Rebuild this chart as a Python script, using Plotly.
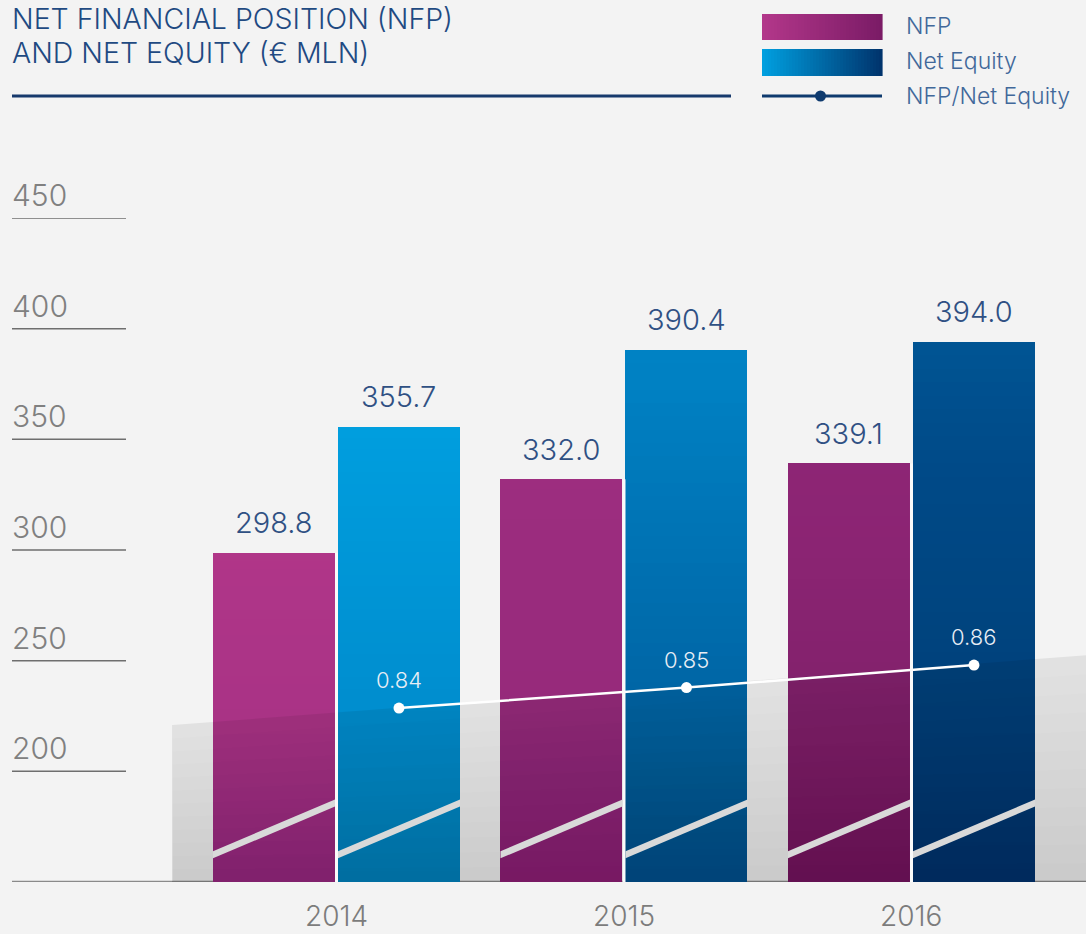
import plotly.graph_objects as go

# ---------------- data ----------------
years = ["2014", "2015", "2016"]
nfp = [298.8, 332.0, 339.1]
net_equity = [355.7, 390.4, 394.0]
ratio = [0.840, 0.850, 0.861]
ratio_labels = ["0.84", "0.85", "0.86"]
y_ticks = [200, 250, 300, 350, 400, 450]

# ---------------- style constants ----------------
W, H = 1086, 934
ML, MR, MT, MB = 12, 0, 218, 52
Y_MIN, Y_MAX = 150, 450
X_RANGE = [-1.1287, 2.607]
BAR_W = 0.4243
OFF_NFP = -0.4296
OFF_NE = 0.0052
BG = "#f3f3f3"
FONT = "Inter"
N_SLICES = 40

nfp_stops = [(0.0, "#bb3a8f"), (0.15, "#b3378a"), (0.47, "#9c2d7f"), (0.81, "#8b2473"), (1.0, "#771e63")]
ne_stops = [(0.0, "#00a6e6"), (0.10, "#00a0e0"), (0.41, "#0080c2"), (0.76, "#004a88"), (1.0, "#003a70")]


def hex2rgb(h):
    h = h.lstrip("#")
    return tuple(int(h[i:i + 2], 16) for i in (0, 2, 4))


def grad(stops, t):
    t = max(0.0, min(1.0, t))
    for (t0, c0), (t1, c1) in zip(stops[:-1], stops[1:]):
        if t <= t1:
            f = (t - t0) / (t1 - t0) if t1 > t0 else 0
            a, b = hex2rgb(c0), hex2rgb(c1)
            return "rgb(%d,%d,%d)" % tuple(round(a[k] + (b[k] - a[k]) * f) for k in range(3))
    r = hex2rgb(stops[-1][1])
    return "rgb(%d,%d,%d)" % r


def tpos(i, y):
    return 0.62 * (i / 2) + 0.38 * ((Y_MAX - y) / (Y_MAX - Y_MIN))


plot_w = W - ML - MR
plot_h = H - MT - MB


def px(x):
    return (x - ML) / plot_w


def py(y):
    return (H - MB - y) / plot_h


fig = go.Figure()
xs = list(range(len(years)))

# gradient bars built from stacked slices
for vals, off, stops in ((nfp, OFF_NFP, nfp_stops), (net_equity, OFF_NE, ne_stops)):
    for k in range(N_SLICES):
        bases, heights, cols = [], [], []
        for i, v in enumerate(vals):
            step = (v - Y_MIN) / N_SLICES
            b = Y_MIN + step * k
            bases.append(b)
            heights.append(step * 1.08 if k < N_SLICES - 1 else step)
            cols.append(grad(stops, tpos(i, b + step / 2)))
        fig.add_trace(go.Bar(
            x=xs, y=heights, base=bases, width=BAR_W, offset=off,
            marker=dict(color=cols, line=dict(width=0)),
            hoverinfo="skip", showlegend=False,
        ))

# translucent grey overlay (trapezoid) with vertical gradient
ov_x = [-0.572, 2.7]
ov_top = [220.9, 253.4]
n_bands = 12
for k in range(n_bands):
    f = k / n_bands
    tl = ov_top[0] - (ov_top[0] - Y_MIN) * f
    tr = ov_top[1] - (ov_top[1] - Y_MIN) * f
    a = 0.072 if k == 0 else 0.009
    fig.add_trace(go.Scatter(
        x=[ov_x[0], ov_x[1], ov_x[1], ov_x[0], ov_x[0]],
        y=[tl, tr, Y_MIN - 5, Y_MIN - 5, tl],
        fill="toself", fillcolor="rgba(0,0,0,%.3f)" % a,
        mode="lines", line=dict(width=0),
        hoverinfo="skip", showlegend=False,
    ))

# ratio line (secondary axis)
ratio_x = [i + OFF_NE + BAR_W / 2 for i in xs]
fig.add_trace(go.Scatter(
    x=ratio_x, y=ratio, yaxis="y2", mode="lines+markers",
    line=dict(color="white", width=2.5),
    marker=dict(color="white", size=11),
    hoverinfo="skip", showlegend=False,
))

shapes = []
annotations = []

# baseline
shapes.append(dict(type="line", xref="paper", yref="y", x0=0, x1=1, y0=Y_MIN, y1=Y_MIN,
                   line=dict(color="#8a8a8a", width=2.5), layer="below"))

# short gridlines + y tick labels
for t in y_ticks:
    shapes.append(dict(type="line", xref="paper", yref="y", x0=0, x1=px(126), y0=t, y1=t,
                       line=dict(color="#6e6e6e", width=1.5), layer="below"))
    annotations.append(dict(xref="paper", yref="y", x=0, y=t, xanchor="left", yanchor="middle",
                            yshift=23, xshift=-2, text=str(t), showarrow=False,
                            font=dict(family=FONT, size=30, color="#808080", weight=300)))

# white gaps within groups and diagonal stripes
for i in xs:
    shapes.append(dict(type="line", xref="x", yref="y", x0=i, x1=i, y0=Y_MIN, y1=nfp[i],
                       line=dict(color="#fafafa", width=3), layer="above"))
    for off in (OFF_NFP, OFF_NE):
        x0 = i + off
        x1 = x0 + BAR_W
        shapes.append(dict(type="path", xref="x", yref="y",
                           path="M %f,%f L %f,%f L %f,%f L %f,%f Z" % (x0, 160.7, x1, 184.1, x1, 187.3, x0, 163.9),
                           fillcolor="#d9d9d9", line=dict(width=0), layer="above"))

# value labels above bars
for vals, off in ((nfp, OFF_NFP), (net_equity, OFF_NE)):
    for i, v in enumerate(vals):
        annotations.append(dict(xref="x", yref="y", x=i + off + BAR_W / 2, y=v, yshift=30,
                                xanchor="center", yanchor="middle", text="%.1f" % v, showarrow=False,
                                font=dict(family=FONT, size=29, color="#2f5083", weight=300)))

# ratio labels
for xv, r, lab in zip(ratio_x, ratio, ratio_labels):
    annotations.append(dict(xref="x", yref="y2", x=xv, y=r, yshift=28, xanchor="center",
                            yanchor="middle", text=lab, showarrow=False,
                            font=dict(family=FONT, size=22, color="#e8eef5", weight=300)))

# year labels
for i, yr in enumerate(years):
    annotations.append(dict(xref="x", yref="paper", x=i, y=0, yshift=-34, xanchor="center",
                            yanchor="middle", text=yr, showarrow=False,
                            font=dict(family=FONT, size=28, color="#7c7c7c", weight=300)))

# title
for txt, yy in (("NET FINANCIAL POSITION (NFP)", 18), ("AND NET EQUITY (€ MLN)", 52)):
    annotations.append(dict(xref="paper", yref="paper", x=0, y=py(yy), xanchor="left",
                            yanchor="middle", text=txt, showarrow=False, xshift=-2,
                            font=dict(family=FONT, size=28.5, color="#1f4a82", weight=300)))
shapes.append(dict(type="line", xref="paper", yref="paper", x0=0, x1=px(731), y0=py(96), y1=py(96),
                   line=dict(color="#16396c", width=3)))

# legend
n_sw = 40
for (y0, y1), stops in (((14, 40), [(0, "#b3378a"), (1, "#7a1b66")]), ((49, 76), [(0, "#00a0e0"), (1, "#00336c")])):
    for k in range(n_sw):
        xa = 762 + 120 * k / n_sw
        xb = 762 + 120 * (k + 1) / n_sw + 0.6
        shapes.append(dict(type="rect", xref="paper", yref="paper", x0=px(xa), x1=px(xb),
                           y0=py(y1), y1=py(y0), fillcolor=grad(stops, (k + 0.5) / n_sw),
                           line=dict(width=0)))
shapes.append(dict(type="line", xref="paper", yref="paper", x0=px(762), x1=px(882), y0=py(96), y1=py(96),
                   line=dict(color="#0e3a6e", width=3)))
shapes.append(dict(type="circle", xref="paper", yref="paper", x0=px(815), x1=px(826), y0=py(101.5), y1=py(90.5),
                   fillcolor="#0e3a6e", line=dict(width=0)))
for txt, yy in (("NFP", 26), ("Net Equity", 61), ("NFP/Net Equity", 96)):
    annotations.append(dict(xref="paper", yref="paper", x=px(906), y=py(yy), xanchor="left",
                            yanchor="middle", text=txt, showarrow=False, xshift=-2,
                            font=dict(family=FONT, size=23, color="#41689a", weight=300)))

# secondary axis range chosen so ratio points sit at their drawn heights
fig.update_layout(
    width=W, height=H,
    margin=dict(l=ML, r=MR, t=MT, b=MB, pad=0),
    paper_bgcolor=BG, plot_bgcolor=BG,
    barmode="overlay", bargap=0,
    xaxis=dict(range=X_RANGE, showgrid=False, zeroline=False, showticklabels=False, showline=False,
               fixedrange=True),
    yaxis=dict(range=[Y_MIN, Y_MAX], showgrid=False, zeroline=False, showticklabels=False, showline=False),
    yaxis2=dict(range=[0.7551, 1.0792], overlaying="y", side="right", showgrid=False, zeroline=False,
                showticklabels=False, showline=False),
    shapes=shapes, annotations=annotations, showlegend=False,
)

fig.write_html("out.html", config={"displayModeBar": False},
               post_script="document.body.style.margin='0px';document.body.style.background='#f3f3f3';")
